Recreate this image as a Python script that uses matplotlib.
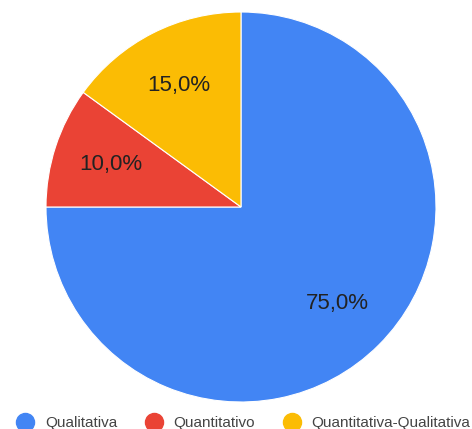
import matplotlib
matplotlib.use("Agg")
import matplotlib.pyplot as plt
from matplotlib.lines import Line2D

# DATA
categories = ["Qualitativa", "Quantitativo", "Quantitativa-Qualitativa"]
values = [75.0, 10.0, 15.0]
colors = ["#4285F4", "#EA4335", "#FBBC04"]

plt.rcParams["font.family"] = ["Liberation Sans", "DejaVu Sans"]

fig = plt.figure(figsize=(4.72, 4.29), dpi=100)
W, H = 472, 429
cx, cy, r = 241, 207, 195
ax = fig.add_axes([(cx - r) / W, 1 - (cy + r) / H, 2 * r / W, 2 * r / H])

ax.pie(values, colors=colors, startangle=90, counterclock=False,
       autopct=lambda p: "{:.1f}%".format(p).replace(".", ","),
       pctdistance=0.7, textprops={"fontsize": 16, "color": "#222222"},
       wedgeprops={"edgecolor": "white", "linewidth": 0.8})
ax.set_aspect("auto")
ax.set_xlim(-1, 1)
ax.set_ylim(-1, 1)

# LEGEND AT BOTTOM
handles = [Line2D([], [], marker="o", linestyle="", markersize=13,
                  markerfacecolor=c, markeredgecolor=c) for c in colors]
leg = fig.legend(handles, categories, loc="center", ncol=3,
                 bbox_to_anchor=(0.5 + 8 / W, 1 - 423 / H), frameon=False,
                 fontsize=11, handletextpad=0.8, columnspacing=1.9,
                 handlelength=1.0, borderpad=0)
for t in leg.get_texts():
    t.set_color("#444444")

fig.savefig("out.png", dpi=100)
